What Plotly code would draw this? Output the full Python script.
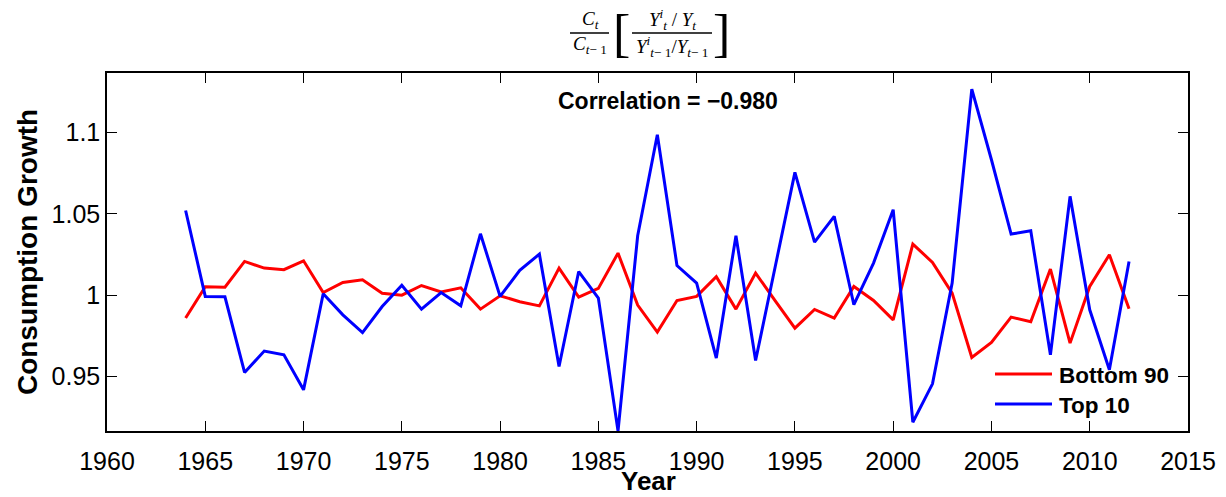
import plotly.graph_objects as go

years = list(range(1964, 2013))
bottom90 = [0.9859, 1.0051, 1.0049, 1.0207, 1.0166, 1.0156, 1.0211, 1.0016, 1.0078, 1.0094,
            1.0012, 1.0000, 1.0059, 1.0020, 1.0045, 0.9914, 0.9996, 0.9959, 0.9934, 1.0166,
            0.9988, 1.0041, 1.0258, 0.9939, 0.9773, 0.9967, 0.9992, 1.0113, 0.9914, 1.0135,
            0.9965, 0.9797, 0.9912, 0.9859, 1.0053, 0.9967, 0.9848, 1.0314, 1.0201, 1.0012,
            0.9617, 0.9709, 0.9865, 0.9836, 1.0160, 0.9705, 1.0053, 1.0248, 0.9916]
top10 = [1.0520, 0.9992, 0.9990, 0.9525, 0.9656, 0.9633, 0.9418, 1.0008, 0.9879, 0.9770,
         0.9930, 1.0061, 0.9914, 1.0016, 0.9934, 1.0377, 0.9992, 1.0152, 1.0252, 0.9561,
         1.0145, 0.9982, 0.9165, 1.0365, 1.0986, 1.0182, 1.0074, 0.9613, 1.0365, 0.9598,
         1.0176, 1.0754, 1.0326, 1.0484, 0.9941, 1.0197, 1.0525, 0.9219, 0.9455, 1.0074,
         1.1266, 1.0832, 1.0375, 1.0395, 0.9633, 1.0607, 0.9910, 0.9541, 1.0207]
xticks = [1960, 1965, 1970, 1975, 1980, 1985, 1990, 1995, 2000, 2005, 2010, 2015]
yticks = [0.95, 1.0, 1.05, 1.1]
yticklabels = ["0.95", "1", "1.05", "1.1"]
series_names = ["Bottom 90", "Top 10"]
series_colors = ["#ff0000", "#0000ff"]
correlation_text = "Correlation = \u22120.980"

L, R, T, B = 107, 1188, 73, 431
W, H = 1226, 497


def px2paper(px, py):
    return (px - L) / (R - L), 1 - (py - T) / (B - T)


fig = go.Figure()
for name, vals, col in zip(series_names, [bottom90, top10], series_colors):
    fig.add_trace(go.Scatter(x=years, y=vals, mode="lines", name=name,
                             line=dict(color=col, width=3), showlegend=False))

sans = "Liberation Sans, Arial, Helvetica"
axis_common = dict(showline=True, linecolor="black", linewidth=1.5, mirror="ticks",
                   ticks="inside", ticklen=10, tickcolor="black", tickwidth=1,
                   showgrid=False, zeroline=False, automargin=False,
                   tickfont=dict(family=sans, size=25, color="black"))

fig.update_xaxes(range=[1960, 2015], tickvals=xticks, ticklabelstandoff=7, **axis_common)
fig.update_yaxes(range=[0.9165, 1.1365], tickvals=yticks, ticktext=yticklabels,
                 title=dict(text="<b>Consumption Growth</b>", font=dict(family=sans, size=28, color="black"),
                            standoff=6),
                 **axis_common)

annotations = []
shapes = []

# x-axis title placed as in reference
x, y = px2paper(648, 481)
annotations.append(dict(xref="paper", yref="paper", x=x, y=y, text="<b>Year</b>",
                        showarrow=False, xanchor="center", yanchor="middle",
                        font=dict(family=sans, size=26, color="black")))

# correlation label
x, y = px2paper(668, 101)
annotations.append(dict(xref="paper", yref="paper", x=x, y=y,
                        text="<b>" + correlation_text + "</b>", showarrow=False,
                        xanchor="center", yanchor="middle",
                        font=dict(family=sans, size=23, color="black")))

# title formula
serif = dict(family="Liberation Serif, DejaVu Serif, serif", size=19, color="black")
title_parts = [
    (590, 20, "<i>C<sub>t</sub></i>"),
    (590, 45, "<i>C</i><sub><i>t</i>\u2212 1</sub>"),
    (672, 19, "<i>Y<sup>i</sup><sub>t</sub></i> / <i>Y<sub>t</sub></i>"),
    (672, 46, "<i>Y<sup>i</sup></i><sub><i>t</i>\u2212 1</sub>/<i>Y</i><sub><i>t</i>\u2212 1</sub>"),
]
for px_, py_, t in title_parts:
    x, y = px2paper(px_, py_)
    annotations.append(dict(xref="paper", yref="paper", x=x, y=y, text=t, showarrow=False,
                            xanchor="center", yanchor="middle", font=serif))
for px_, t in [(621, "["), (721, "]")]:
    x, y = px2paper(px_, 34)
    annotations.append(dict(xref="paper", yref="paper", x=x, y=y, text=t, showarrow=False,
                            xanchor="center", yanchor="middle",
                            font=dict(family="Liberation Serif, serif", size=52, color="black")))
for x0, x1 in [(570, 609), (632, 712)]:
    a0, b0 = px2paper(x0, 33)
    a1, _ = px2paper(x1, 33)
    shapes.append(dict(type="line", xref="paper", yref="paper", x0=a0, x1=a1, y0=b0, y1=b0,
                       line=dict(color="black", width=1.5)))

# legend (no box, as in reference)
for i, (name, col) in enumerate(zip(series_names, series_colors)):
    ly = 374 + 30 * i
    a0, b0 = px2paper(995, ly)
    a1, _ = px2paper(1052, ly)
    shapes.append(dict(type="line", xref="paper", yref="paper", x0=a0, x1=a1, y0=b0, y1=b0,
                       line=dict(color=col, width=3)))
    tx, ty = px2paper(1057, ly + 1)
    annotations.append(dict(xref="paper", yref="paper", x=tx, y=ty, text="<b>" + name + "</b>",
                            showarrow=False, xanchor="left", yanchor="middle",
                            font=dict(family=sans, size=22.5, color="black")))

fig.update_layout(
    width=W, height=H,
    margin=dict(l=L, r=W - R, t=T, b=H - B),
    paper_bgcolor="white", plot_bgcolor="white",
    showlegend=False,
    annotations=annotations,
    shapes=shapes,
)

fig.write_html("out.html", config={"displayModeBar": False},
               post_script="document.body.style.margin='0';document.body.style.padding='0';"
                           "document.body.style.overflow='hidden';")
